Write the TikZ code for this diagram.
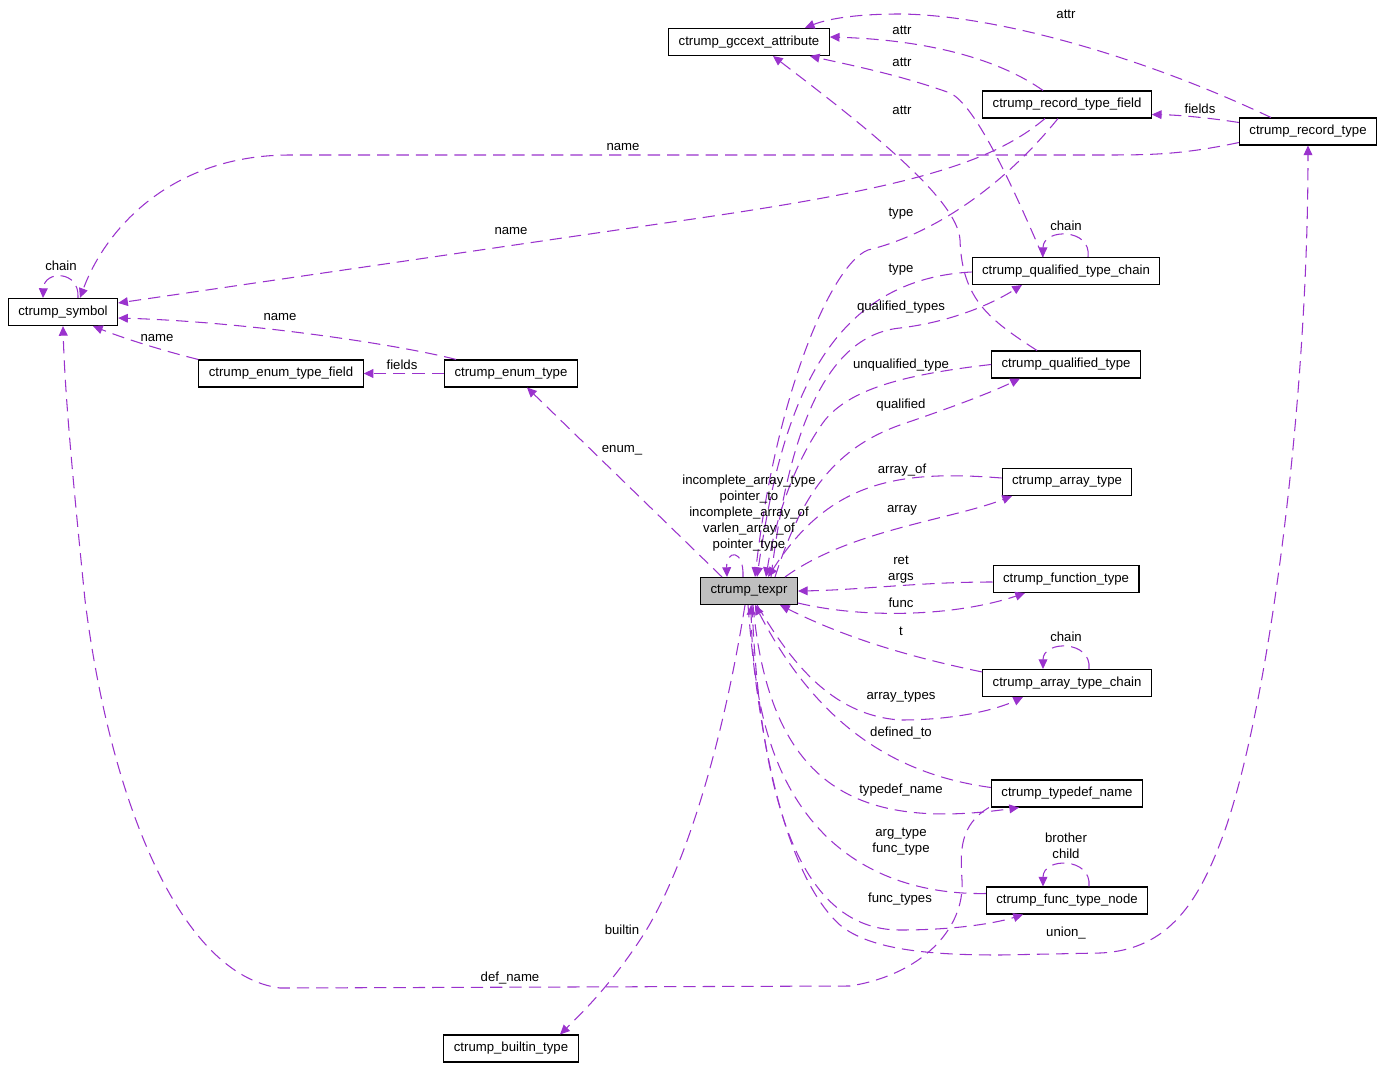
\documentclass[tikz,border=0pt]{standalone}
\usepackage{fontspec}
\setmainfont{Liberation Sans}
\usetikzlibrary{arrows.meta,calc,positioning}
\definecolor{EdgePurple}{RGB}{154,50,205}
\definecolor{BoxGray}{RGB}{191,191,191}

\begin{document}
\begin{tikzpicture}[x=0.02cm,y=-0.02cm,>={Triangle[length=5.5pt,width=5pt]},
    font=\fontsize{7.5}{9}\selectfont,
    box/.style={draw,line width=0.6pt,fill=white,minimum height=0.54cm,
      inner xsep=0.2cm,inner ysep=0pt},
    uses/.style={->,EdgePurple,line width=0.6pt,dash pattern=on 7pt off 4pt},
    lbl/.style={inner sep=0pt,align=center}]
  \useasboundingbox (0,0) rectangle (1381,1067);
  % classes
  \node[box] (gccext) at (749,42) {ctrump\_gccext\_attribute};
  \node[box] (rtfield) at (1067,104.5) {ctrump\_record\_type\_field};
  \node[box] (rtype) at (1308,131.5) {ctrump\_record\_type};
  \node[box] (symbol) at (63,312) {ctrump\_symbol};
  \node[box] (qtchain) at (1066,271) {ctrump\_qualified\_type\_chain};
  \node[box] (qtype) at (1066,364.5) {ctrump\_qualified\_type};
  \node[box] (etfield) at (281,373.5) {ctrump\_enum\_type\_field};
  \node[box] (etype) at (511,373.5) {ctrump\_enum\_type};
  \node[box] (atype) at (1067,482) {ctrump\_array\_type};
  \node[box,fill=BoxGray] (texpr) at (749,591) {ctrump\_texpr};
  \node[box] (ftype) at (1066,579) {ctrump\_function\_type};
  \node[box] (atchain) at (1067,683) {ctrump\_array\_type\_chain};
  \node[box] (tdname) at (1067,793.5) {ctrump\_typedef\_name};
  \node[box] (ftnode) at (1067,900.5) {ctrump\_func\_type\_node};
  \node[box] (btype) at (511,1048.5) {ctrump\_builtin\_type};

  % ctrump_symbol
  \draw[uses] ($(symbol.north)+(15,0)$) .. controls (80,270) and (44,270)
    .. ($(symbol.north)+(-20,0)$);
  \draw[uses] ($(rtype.south west)+(0,-3)$) .. controls (1180,155) and (1150,155)
    .. (1100,155) -- (290,155) .. controls (170,155) and (105,230)
    .. ($(symbol.north)+(17,0)$);
  \draw[uses] ($(rtfield.south)+(-22,0)$) .. controls (990,165) and (900,190)
    .. (665,223) -- ($(symbol.east)+(0,-9)$);
  \draw[uses] ($(etype.north west)+(12,0)$) .. controls (400,345) and (250,322)
    .. ($(symbol.east)+(0,6)$);
  \draw[uses] (etfield.north west) .. controls (160,350) and (120,337)
    .. ($(symbol.south)+(30,0)$);
  \draw[uses] ($(tdname.south west)+(-2,0)$) .. controls (960,825) and (960,850)
    .. (962,880) .. controls (965,930) and (920,975) .. (850,986) -- (280,988)
    .. controls (180,975) and (110,800) .. (85,600)
    .. controls (75,500) and (65,400) .. (symbol.south);
  \draw[uses] (etype.west) -- (etfield.east);

  % ctrump_gccext_attribute and ctrump_record_type
  \draw[uses] ($(rtype.north west)+(32,0)$) .. controls (1150,60) and (1000,15)
    .. (900,14) .. controls (860,14) and (830,18) .. ($(gccext.north east)+(-25,0)$);
  \draw[uses] ($(rtfield.north)+(-24,0)$) .. controls (1000,60) and (930,40)
    .. ($(gccext.east)+(0,-5)$);
  \draw[uses] ($(qtchain.north)+(-23,0)$) .. controls (1010,180) and (975,105)
    .. (950,93) .. controls (900,75) and (850,65) .. ($(gccext.south east)+(-20,0)$);
  \draw[uses] ($(qtype.north)+(-29,0)$) .. controls (990,320) and (962,300)
    .. (960,240) .. controls (958,200) and (870,130) .. ($(gccext.south)+(24,0)$);
  \draw[uses] ($(rtype.west)+(0,-9)$) .. controls (1210,118) and (1180,115)
    .. ($(rtfield.east)+(0,10)$);

  % self references
  \draw[uses] ($(qtchain.north)+(22,0)$) .. controls (1092,228) and (1043,228)
    .. ($(qtchain.north)+(-23,0)$);
  \draw[uses] ($(atchain.north)+(22,0)$) .. controls (1092,640) and (1043,640)
    .. ($(atchain.north)+(-24,0)$);
  \draw[uses] ($(ftnode.north)+(22,0)$) .. controls (1092,857) and (1043,857)
    .. ($(ftnode.north)+(-24,0)$);
  \draw[uses] ($(texpr.north)+(-6,0)$) .. controls (744,548) and (726,550)
    .. ($(texpr.north)+(-22,0)$);

  % ctrump_texpr, top side
  \draw[uses] ($(texpr.north)+(-27,0)$) -- ($(etype.south)+(16,0)$);
  \draw[uses] ($(rtfield.south)+(-9,0)$) .. controls (1000,190) and (930,235)
    .. (868,250) .. controls (830,265) and (775,400) .. ($(texpr.north)+(6,0)$);
  \draw[uses] ($(qtchain.west)+(0,1)$) .. controls (820,280) and (780,420)
    .. ($(texpr.north)+(8,0)$);
  \draw[uses] ($(texpr.north)+(22,0)$) .. controls (790,420) and (830,335)
    .. (900,328) .. controls (950,322) and (990,305) .. ($(qtchain.south)+(-44,0)$);
  \draw[uses] (qtype.west) .. controls (900,375) and (850,390)
    .. (825,420) .. controls (795,460) and (775,520) .. ($(texpr.north)+(17,0)$);
  \draw[uses] ($(texpr.north)+(26,0)$) .. controls (800,500) and (830,450)
    .. (900,425) .. controls (950,408) and (990,393) .. ($(qtype.south)+(-46,0)$);
  \draw[uses] ($(atype.west)+(0,-4)$) .. controls (900,470) and (830,480)
    .. ($(texpr.north)+(19,0)$);
  \draw[uses] ($(texpr.north)+(36,0)$) .. controls (850,530) and (950,520)
    .. ($(atype.south)+(-55,0)$);

  % ctrump_texpr, right and bottom side
  \draw[uses] ($(ftype.west)+(0,3)$) .. controls (920,582) and (860,590) .. (texpr.east);
  \draw[uses] ($(texpr.south east)+(0,-2)$) .. controls (870,620) and (960,615)
    .. ($(ftype.south)+(-41,0)$);
  \draw[uses] ($(atchain.north west)+(0,3)$) .. controls (900,655) and (840,635)
    .. ($(texpr.south)+(31,0)$);
  \draw[uses] ($(texpr.south)+(8,0)$) .. controls (790,660) and (830,715)
    .. (900,720) .. controls (960,720) and (1000,708) .. ($(atchain.south)+(-44,0)$);
  \draw[uses] ($(tdname.west)+(0,-6)$) .. controls (900,775) and (820,730)
    .. ($(texpr.south)+(6,0)$);
  \draw[uses] ($(texpr.south)+(4,0)$) .. controls (770,790) and (860,830)
    .. ($(tdname.south)+(-48,0)$);
  \draw[uses] ($(ftnode.west)+(0,-7)$) .. controls (900,895) and (755,860)
    .. ($(texpr.south)+(2,0)$);
  \draw[uses] ($(texpr.south)+(3,0)$) .. controls (760,800) and (800,930)
    .. (900,930) .. controls (960,930) and (1000,922) .. ($(ftnode.south)+(-44,0)$);
  \draw[uses] ($(texpr.south)+(-1,0)$) .. controls (760,760) and (790,880)
    .. (840,925) .. controls (870,950) and (930,955) .. (1000,955) -- (1100,953)
    .. controls (1170,950) and (1200,900) .. (1225,830)
    .. controls (1270,700) and (1308,400) .. (rtype.south);
  \draw[uses] ($(texpr.south)+(-4,0)$) .. controls (720,760) and (680,880)
    .. (640,940) .. controls (610,985) and (585,1010) .. ($(btype.north)+(49,0)$);

  % labels
  \node[lbl] (lSymChain) at (61,266) {chain};
  \node[lbl] (lRecName) at (623,147) {name};
  \node[lbl] (lFieldName) at (511,231) {name};
  \node[lbl] (lEnumName) at (280,317) {name};
  \node[lbl] (lEnumFieldName) at (157,338) {name};
  \node[lbl] (lEnumFields) at (402,365) {fields};
  \node[lbl] (lEnum) at (622,450) {enum\_};
  \node[lbl] (lSelf) at (749,513) {incomplete\_array\_type\\pointer\_to\\
    incomplete\_array\_of\\varlen\_array\_of\\pointer\_type};
  \node[lbl] (lRecAttr) at (1066,14) {attr};
  \node[lbl] (lFieldAttr) at (902,30) {attr};
  \node[lbl] (lChainAttr) at (902,62) {attr};
  \node[lbl] (lQualAttr) at (902,110) {attr};
  \node[lbl] (lRecFields) at (1200,109) {fields};
  \node[lbl] (lFieldType) at (901,214) {type};
  \node[lbl] (lChainType) at (901,270) {type};
  \node[lbl] (lQtChain) at (1066,226) {chain};
  \node[lbl] (lQualTypes) at (901,307) {qualified\_types};
  \node[lbl] (lUnqual) at (901,365) {unqualified\_type};
  \node[lbl] (lQual) at (901,405) {qualified};
  \node[lbl] (lArrayOf) at (902,470) {array\_of};
  \node[lbl] (lArray) at (902,510) {array};
  \node[lbl] (lRetArgs) at (901,570) {ret\\args};
  \node[lbl] (lFunc) at (901,603) {func};
  \node[lbl] (lT) at (901,631) {t};
  \node[lbl] (lAtChain) at (1066,637) {chain};
  \node[lbl] (lArrayTypes) at (901,697) {array\_types};
  \node[lbl] (lDefinedTo) at (901,733) {defined\_to};
  \node[lbl] (lTypedefName) at (901,790) {typedef\_name};
  \node[lbl] (lArgFunc) at (901,842) {arg\_type\\func\_type};
  \node[lbl] (lBrother) at (1066,846) {brother\\child};
  \node[lbl] (lFuncTypes) at (900,899) {func\_types};
  \node[lbl] (lUnion) at (1066,933) {union\_};
  \node[lbl] (lBuiltin) at (622,930) {builtin};
  \node[lbl] (lDefName) at (510,978) {def\_name};
\end{tikzpicture}
\end{document}
